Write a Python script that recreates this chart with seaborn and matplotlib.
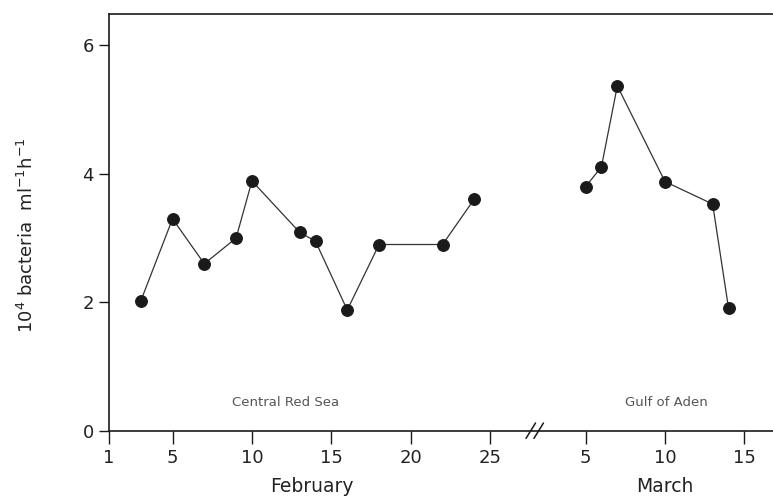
import matplotlib
matplotlib.use("Agg")
import matplotlib.pyplot as plt
import seaborn as sns
import pandas as pd

# Data
feb_days = [3, 5, 7, 9, 10, 13, 14, 16, 18, 22, 24]
feb_vals = [2.02, 3.30, 2.60, 3.00, 3.89, 3.09, 2.95, 1.88, 2.90, 2.90, 3.61]
mar_days = [5, 6, 7, 10, 13, 14]
mar_vals = [3.80, 4.11, 5.37, 3.88, 3.53, 1.91]
feb_ticks = [1, 5, 10, 15, 20, 25]
mar_ticks = [5, 10, 15]
MARCH_OFFSET = 26  # axis break: March day d drawn at d + offset

sns.set_theme(style="white")
plt.rcParams['font.family'] = ['DejaVu Sans']
plt.rcParams['xtick.bottom'] = True
plt.rcParams['ytick.left'] = True

df = pd.concat([
    pd.DataFrame({"pos": feb_days, "val": feb_vals, "region": "Central Red Sea"}),
    pd.DataFrame({"pos": [d + MARCH_OFFSET for d in mar_days], "val": mar_vals, "region": "Gulf of Aden"}),
])

fig = plt.figure(figsize=(7.73, 4.97), dpi=100)
ax = fig.add_axes([0.141, 0.1334, 0.859, 0.8384])

ink = "#1a1a1a"
for region, sub in df.groupby("region"):
    sns.lineplot(data=sub, x="pos", y="val", ax=ax, color="#333333", linewidth=0.9,
                 marker="o", markersize=8.5, markerfacecolor=ink, markeredgecolor=ink,
                 legend=False)

ax.set_xlim(1, 42.8)
ax.set_ylim(0, 6.49)
ax.set_yticks([0, 2, 4, 6])
ax.set_yticklabels(["0", "2", "4", "6"])
xt = feb_ticks + [d + MARCH_OFFSET for d in mar_ticks]
ax.set_xticks(xt)
ax.set_xticklabels([str(t) for t in feb_ticks] + [str(t) for t in mar_ticks])
ax.tick_params(axis="both", which="major", bottom=True, left=True, direction="out",
               length=7, width=1, color=ink, labelsize=13, labelcolor="#222222", pad=4)
ax.tick_params(axis="x", length=9)

for s in ["left", "bottom", "top"]:
    ax.spines[s].set_color(ink)
    ax.spines[s].set_linewidth(1.2)
ax.spines["right"].set_visible(False)

ax.set_xlabel("")
ax.set_ylabel(r"$\mathregular{10^4}$ bacteria  ml$\mathregular{^{-1}}$h$\mathregular{^{-1}}$",
              fontsize=13, color="#222222")
ax.yaxis.set_label_coords(-0.108, 0.47)

# axis break marks
bx = 27.8
for dx in (-0.25, 0.25):
    ax.plot([bx + dx - 0.3, bx + dx + 0.3], [-0.12, 0.12], color=ink, lw=1.1,
            clip_on=False, transform=ax.transData)

# region labels
ax.text(12.1, 0.44, "Central Red Sea", ha="center", va="center", fontsize=9.5, color="#555555")
ax.text(36.1, 0.44, "Gulf of Aden", ha="center", va="center", fontsize=9.5, color="#555555")

# month labels
ax.text(13.8, -0.87, "February", ha="center", va="center", fontsize=13.5, color="#222222")
ax.text(36.0, -0.87, "March", ha="center", va="center", fontsize=13.5, color="#222222")

fig.savefig("out.png", dpi=100)
